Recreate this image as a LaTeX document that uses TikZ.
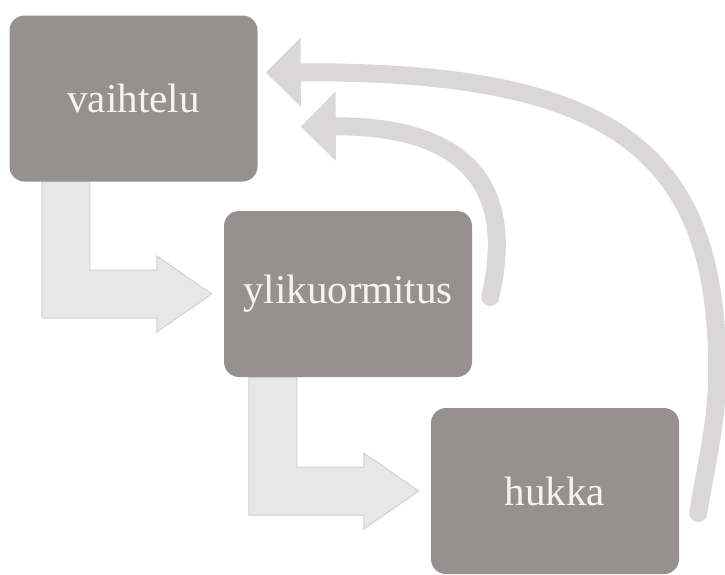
\documentclass[tikz,border=0pt]{standalone}
\usepackage{fontspec}
\setmainfont{Liberation Serif}
\usetikzlibrary{positioning,arrows.meta,calc,backgrounds}
\definecolor{boxgray}{RGB}{149,145,144}
\definecolor{boxtext}{RGB}{246,244,241}
\definecolor{stepfill}{RGB}{232,231,232}
\definecolor{stepline}{RGB}{211,210,211}
\definecolor{loopgray}{RGB}{217,215,216}
\newcommand{\stepdown}[2]{%
  \draw[bentarr] ([xshift=-12pt]#2.west) coordinate (tip)
    -- ++(-55,-38) -- ++(0,14) -- ++(-67,0) coordinate (knee)
    -- (knee |- #1.south) -- ++(-48,0)
    -- ($(tip)+(-170,24)$) -- ++(115,0) -- ++(0,14) -- cycle;}

\begin{document}
\begin{tikzpicture}[x=1pt, y=-1pt,
    box/.style={fill=boxgray, rounded corners=15pt, minimum width=248pt,
                minimum height=166pt, inner sep=0pt, text=boxtext,
                font=\fontsize{41}{49}\selectfont},
    bentarr/.style={fill=stepfill, draw=stepline, line width=1pt},
    backarr/.style={draw=loopgray, line width=18pt, line cap=round,
                    -{Triangle[length=35pt, width=67pt]}}
  ]
  \useasboundingbox (0,0) rectangle (725,574);

  % ================= PHASES =================
  \node[box] (vai)  at (133.5, 98.5) {vaihtelu};
  \node[box] (ylik) at (348, 294)    {ylikuormitus};
  \node[box] (huk)  at (555, 491)    {hukka};

  % ================= FORWARD STEPS =================
  \begin{scope}[on background layer]
    \stepdown{vai}{ylik}
    \stepdown{ylik}{huk}
  \end{scope}

  % ================= FEEDBACK LOOPS =================
  \draw[backarr] ([xshift=18pt, yshift=-3pt]ylik.east)
    .. controls +(25,-107) and +(170,-1) .. ([xshift=43pt, yshift=-28pt]vai.east);
  \draw[backarr] ([xshift=19pt, yshift=-22pt]huk.east)
    .. controls +(10,-60) and +(0,50) .. ([xshift=38pt, yshift=121pt]huk.east)
    .. controls +(0,-220) and +(347,-2) .. ([xshift=8pt, yshift=26pt]vai.east);

\end{tikzpicture}
\end{document}
